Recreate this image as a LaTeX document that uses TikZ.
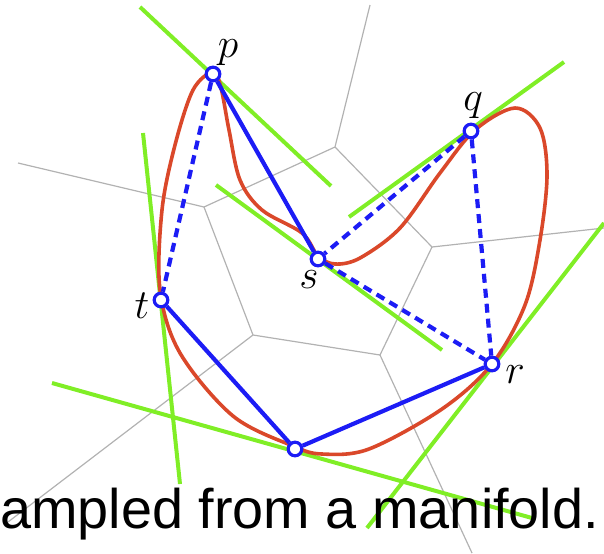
\documentclass[tikz,border=0pt]{standalone}
\usepackage{fontspec}
\newfontfamily\felirfont{Liberation Sans}
\usetikzlibrary{positioning}
\definecolor{piros}{RGB}{218,72,42}
\definecolor{zold}{RGB}{128,238,38}
\definecolor{kek}{RGB}{28,28,245}
\tikzset{
  mintapont/.style={circle,draw=kek,line width=1.6pt,fill=white,inner sep=0pt,minimum size=6.8pt},
  cimke/.style={inner sep=0pt,font=\fontsize{20}{24}\selectfont},
  cella/.style={draw=gray!60,line width=0.6pt},
  erinto/.style={draw=zold,line width=2pt},
  gorbe/.style={draw=piros,line width=1.8pt},
  el/.style={draw=kek,line width=2.1pt},
  szel/.style={draw=kek,line width=2.1pt,dash pattern=on 4.5pt off 3pt},
  felirat/.style={anchor=base west,inner sep=0pt,font=\felirfont\fontsize{27.9}{34}\selectfont},
}
\begin{document}
\begin{tikzpicture}[x=0.5pt,y=-0.5pt]
  \useasboundingbox (0,0) rectangle (604,553);
  \coordinate (va) at (204,207); \coordinate (vb) at (253,335); \coordinate (vc) at (335,147);
  \coordinate (vd) at (432,247); \coordinate (ve) at (380,355);
  \coordinate (wa) at (18,163); \coordinate (wb) at (8,522); \coordinate (wc) at (370,5);
  \coordinate (wd) at (604,228); \coordinate (we) at (472,553);
  \draw[cella] (wa) -- (va) -- (vc) -- (wc); \draw[cella] (vc) -- (vd) -- (wd);
  \draw[cella] (va) -- (vb) -- (ve) -- (vd); \draw[cella] (vb) -- (wb); \draw[cella] (ve) -- (we);
  \coordinate (ep1) at (140,7);   \coordinate (ep2) at (331,186);
  \coordinate (eq1) at (349,217); \coordinate (eq2) at (564,62);
  \coordinate (es1) at (216,185); \coordinate (es2) at (442,350);
  \coordinate (et1) at (143,133); \coordinate (et2) at (180,484);
  \coordinate (er1) at (604,223); \coordinate (er2) at (367,528);
  \coordinate (eu1) at (52,383);  \coordinate (eu2) at (532,518);
  \draw[erinto] (ep1) -- (ep2); \draw[erinto] (eq1) -- (eq2); \draw[erinto] (es1) -- (es2);
  \draw[erinto] (et1) -- (et2); \draw[erinto] (er1) -- (er2); \draw[erinto] (eu1) -- (eu2);
  \draw[gorbe] plot[smooth cycle,tension=0.55] coordinates {(213,72) (221,88) (229,130) (240,180)
    (262,210) (302,233) (318,256) (335,264) (360,258) (400,228) (440,173) (475,130) (515,108)
    (540,128) (547,175) (540,240) (525,305) (492,364) (442,409) (369,449) (322,454) (293,446)
    (233,416) (180,353) (160,290) (162,210) (175,145) (193,90)};
  \node[mintapont] (p) at (213,74) {};
  \node[mintapont] (q) at (471,131) {};
  \node[mintapont] (s) at (318,259) {};
  \node[mintapont] (t) at (161,300) {};
  \node[mintapont] (r) at (492,364) {};
  \node[mintapont] (u) at (295,449) {};
  \draw[el] (p) -- (s); \draw[el] (t) -- (u); \draw[el] (u) -- (r);
  \draw[szel] (p) -- (t); \draw[szel] (q) -- (s); \draw[szel] (q) -- (r); \draw[szel] (s) -- (r);
  \node[cimke] (pl) at (228,53) {$p$};
  \node[cimke] (ql) at (473,106) {$q$};
  \node[cimke] (sl) at (309,280) {$s$};
  \node[cimke] (tl) at (142,306) {$t$};
  \node[cimke] (rl) at (515,375) {$r$};
  \node[felirat] (szoveg) at (0,528) {ampled from a manifold.};
\end{tikzpicture}
\end{document}
